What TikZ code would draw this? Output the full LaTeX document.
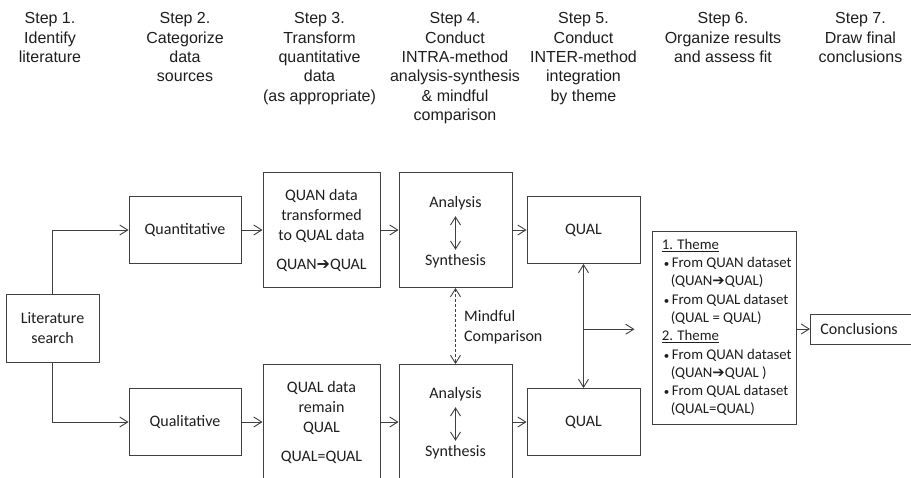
\documentclass[tikz,border=0pt]{standalone}
\usepackage{fontspec}
\setmainfont{Liberation Sans}
\newfontfamily\calfont{Carlito}
\newfontfamily\djv{DejaVu Sans}
\usetikzlibrary{arrows.meta,calc}
\definecolor{ln}{HTML}{404040}
\definecolor{tx}{HTML}{1E1E1E}
\newcommand{\harr}{{\djv\char"2794}}
\newcommand{\bul}{\makebox[10pt][l]{\hspace*{2pt}{\fontsize{11}{11}\selectfont •}}}
\begin{document}
\begin{tikzpicture}[x=1pt,y=-1pt,
  hdr/.style={anchor=north, align=center, inner sep=0pt, text=tx, font=\fontsize{16}{19.3}\selectfont},
  box/.style={draw=ln, line width=0.9pt, inner sep=0pt, align=center, text=tx, font=\calfont\fontsize{16}{20}\selectfont},
  lbl/.style={inner sep=0pt, text=tx, font=\calfont\fontsize{16}{20}\selectfont, text height=11pt, text depth=4pt, anchor=base},
  arr/.style={draw=ln, line width=0.9pt, -{Straight Barb[length=8pt,width=10pt]}},
  dbl/.style={draw=ln, line width=0.9pt, {Straight Barb[length=8pt,width=10pt]}-{Straight Barb[length=8pt,width=10pt]}},
]
\clip (0,0) rectangle (911,477);
\fill[white] (0,0) rectangle (911,477);

% header
\node[hdr] (s1) at (50,12.5) {Step 1.\\Identify\\literature};
\node[hdr] (s2) at (185,12.5) {Step 2.\\Categorize\\data\\sources};
\node[hdr] (s3) at (319.5,12.5) {Step 3.\\Transform\\quantitative\\data\\(as appropriate)};
\node[hdr] (s4) at (455,12.5) {Step 4.\\Conduct\\INTRA-method\\analysis-synthesis\\\& mindful\\comparison};
\node[hdr] (s5) at (583.5,12.5) {Step 5.\\Conduct\\INTER-method\\integration\\by theme};
\node[hdr] (s6) at (723,12.5) {Step 6.\\Organize results\\and assess fit};
\node[hdr] (s7) at (860.5,12.5) {Step 7.\\Draw final\\conclusions};

% boxes
\node[box, minimum width=93pt, minimum height=68pt] (lit) at (52.5,328) {Literature\\search};
\node[box, minimum width=112pt, minimum height=67pt] (quant) at (185,230) {Quantitative};
\node[box, minimum width=112pt, minimum height=67pt] (qual) at (185,422) {Qualitative};
\node[box, minimum width=117pt, minimum height=115pt] (qnb) at (321.5,230) {QUAN data\\transformed\\to QUAL data\\[9pt]QUAN\harr QUAL};
\node[box, minimum width=117pt, minimum height=115pt] (qlb) at (321.5,422) {QUAL data\\remain\\QUAL\\[9pt]QUAL=QUAL};
\node[box, minimum width=113pt, minimum height=115pt] (ana1) at (455.5,230) {};
\node[box, minimum width=113pt, minimum height=115pt] (ana2) at (455.5,422) {};
\node[box, minimum width=113pt, minimum height=67pt] (qa) at (583.5,230) {QUAL};
\node[box, minimum width=113pt, minimum height=67pt] (qb) at (583.5,422) {QUAL};
\node[box, minimum width=144pt, minimum height=193pt] (theme) at (724,327.5) {};
\node[box, anchor=west, text width=85pt, inner xsep=10pt, minimum height=30pt, align=left] (concl) at (810,329) {Conclusions};

% inner texts
\node[lbl] (a1a) at (455.5,207) {Analysis};
\node[lbl] (a1s) at (455.5,265) {Synthesis};
\node[lbl] (a2a) at (455.5,398) {Analysis};
\node[lbl] (a2s) at (455.5,456) {Synthesis};
\node[anchor=west, align=left, inner sep=0pt, text=tx, font=\calfont\fontsize{16}{20}\selectfont] (mc) at (464,327) {Mindful\\Comparison};
\node[anchor=west, align=left, inner sep=0pt, text=tx, font=\calfont\fontsize{14.8}{18.3}\selectfont] (tt) at ([xshift=10pt]theme.west) {%
\underline{1. Theme}\\
\bul From QUAN dataset\\
\hspace*{9pt}(QUAN\harr QUAL)\\
\bul From QUAL dataset\\
\hspace*{9pt}(QUAL = QUAL)\\
\underline{2. Theme}\\
\bul From QUAN dataset\\
\hspace*{9pt}(QUAN\harr QUAL )\\
\bul From QUAL dataset\\
\hspace*{9pt}(QUAL=QUAL)};

% connectors
\draw[arr] (lit.north) |- (quant.west);
\draw[arr] (lit.south) |- (qual.west);
\draw[arr] (quant.east) -- (qnb.west);
\draw[arr] (qual.east) -- (qlb.west);
\draw[arr] (qnb.east) -- (ana1.west);
\draw[arr] (qlb.east) -- (ana2.west);
\draw[arr] (ana1.east) -- (qa.west);
\draw[arr] (ana2.east) -- (qb.west);
\draw[dbl, shorten <=5pt, shorten >=4pt] (a1a.south) -- (a1s.north);
\draw[dbl, shorten <=5pt, shorten >=4pt] (a2a.south) -- (a2s.north);
\draw[dbl, dash pattern=on 3pt off 2pt] (ana1.south) -- (ana2.north);
\draw[dbl] (qa.south) -- (qb.north);
\coordinate (br) at ($(qa.south)!0.526!(qb.north)$);
\coordinate (be) at ([xshift=51pt]br);
\draw[arr] (br) -- (be);
\draw[arr] (theme.east |- concl.west) -- (concl.west);
\end{tikzpicture}
\end{document}
